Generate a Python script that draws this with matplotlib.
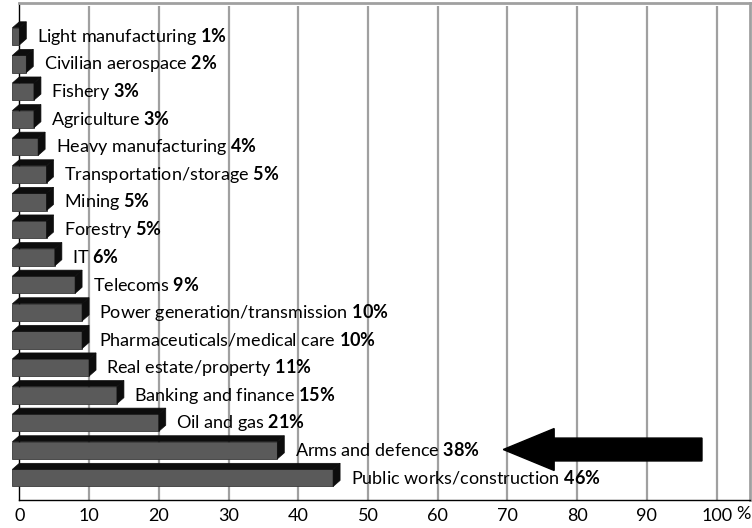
import matplotlib
matplotlib.use('Agg')
import matplotlib.pyplot as plt
from matplotlib.patches import Polygon, FancyArrow

# Share of respondents by sector (top to bottom as shown)
sectors = ['Light manufacturing', 'Civilian aerospace', 'Fishery', 'Agriculture',
           'Heavy manufacturing', 'Transportation/storage', 'Mining', 'Forestry', 'IT',
           'Telecoms', 'Power generation/transmission', 'Pharmaceuticals/medical care',
           'Real estate/property', 'Banking and finance', 'Oil and gas',
           'Arms and defence', 'Public works/construction']
shares = [1, 2, 3.1, 3.1, 3.7, 4.9, 4.9, 4.9, 6.1, 9, 10, 10, 11, 15, 21, 38, 46]
share_labels = ['1%', '2%', '3%', '3%', '4%', '5%', '5%', '5%', '6%', '9%',
                '10%', '10%', '11%', '15%', '21%', '38%', '46%']
x_ticks = [0, 10, 20, 30, 40, 50, 60, 70, 80, 90, 100]
highlight = 'Arms and defence'

plt.rcParams['font.family'] = ['Lato', 'DejaVu Sans']
plt.rcParams['mathtext.fontset'] = 'custom'
plt.rcParams['mathtext.rm'] = 'Lato'
plt.rcParams['mathtext.bf'] = 'Lato:bold'

fig = plt.figure(figsize=(7.52, 5.28), dpi=100)
ax = fig.add_axes([0.0257, 0.053, 0.9714, 0.9413])

n = len(sectors)
ypos = [n - 1 - i for i in range(n)]

# 3D look: front face shifted left/down from the "back" value
dx = 1.0     # x data units
dy = 0.22    # y data units
h = 0.62

front = '#5a5a5a'
dark = '#0d0d0d'

ax.barh(ypos, shares, left=-dx, height=h, color=front, edgecolor='#3a3a3a',
        linewidth=0.6, zorder=4, clip_on=False)
for y, v in zip(ypos, shares):
    top = Polygon([(-dx, y + h / 2), (v - dx, y + h / 2), (v, y + h / 2 + dy), (0, y + h / 2 + dy)],
                  closed=True, facecolor=dark, edgecolor=dark, linewidth=0.5, zorder=4, clip_on=False)
    side = Polygon([(v - dx, y - h / 2), (v - dx, y + h / 2), (v, y + h / 2 + dy), (v, y - h / 2 + dy)],
                   closed=True, facecolor=dark, edgecolor=dark, linewidth=0.5, zorder=4, clip_on=False)
    ax.add_patch(top)
    ax.add_patch(side)

for y, v, name, pct in zip(ypos, shares, sectors, share_labels):
    bold = pct.replace('%', r'\%')
    ax.annotate(name + ' $\\mathbf{' + bold + '}$', xy=(v, y), xytext=(7.5, 0),
                textcoords='offset points', ha='left', va='center',
                fontsize=13, color='black', zorder=5)

# big arrow pointing at the highlighted sector
ya = ypos[sectors.index(highlight)] + 0.03
arrow = FancyArrow(97.9, ya, -28.5, 0, width=0.83, head_width=1.52, head_length=7.3,
                   length_includes_head=True, color='black', zorder=5)
ax.add_patch(arrow)

ax.set_xlim(0, 104.76)
ax.set_ylim(-0.8, 17.21)

# vertical grid
ax.vlines(x_ticks[1:], -0.8, 17.1, colors='#a0a0a0', linewidth=1.6, zorder=1)

ax.set_xticks(x_ticks)
ax.set_xticklabels([str(t) for t in x_ticks])
ax.tick_params(axis='x', length=0, pad=6, labelsize=13)
ax.set_yticks([])
ax.annotate('%', xy=(100, 0), xycoords=('data', 'axes fraction'), xytext=(14, -10),
            textcoords='offset points', ha='left', va='center', fontsize=13)

for s in ['left', 'bottom']:
    ax.spines[s].set_color('black')
    ax.spines[s].set_linewidth(1.0)
for s in ['top', 'right']:
    ax.spines[s].set_color('#a0a0a0')
    ax.spines[s].set_linewidth(2.0)

fig.savefig('out.png', dpi=100)
